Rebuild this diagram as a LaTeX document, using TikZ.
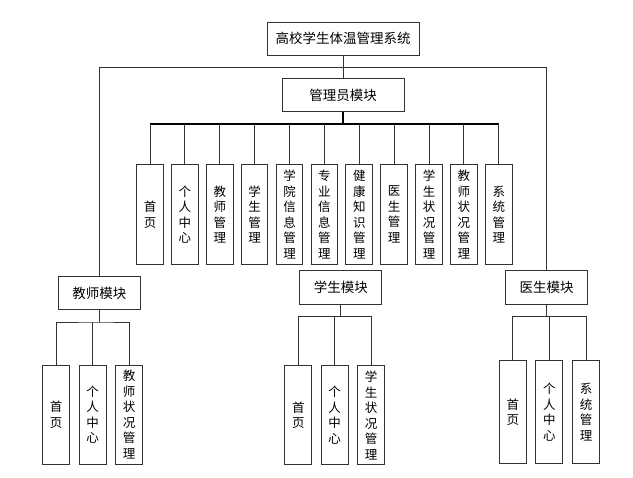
\documentclass[tikz,border=0pt]{standalone}
\usepackage{fontspec}
\newfontfamily\cjk{Noto Sans CJK SC}
\begin{document}
\begin{tikzpicture}[x=1bp,y=-1bp,
  box/.style={draw=black!80,line width=1bp,fill=white,inner sep=0pt,font=\cjk\fontsize{13.5bp}{15bp}\selectfont},
  vbox/.style={draw=black!80,line width=1bp,fill=white,inner sep=0pt,minimum width=26.7bp,minimum height=99.5bp,align=center,font=\cjk\fontsize{12.5bp}{15.5bp}\selectfont},
  link/.style={draw=black!80,line width=1bp},
  boldlink/.style={draw=black,line width=1.6bp}]
\useasboundingbox (0,0) rectangle (633,478);
% top and admin
\node[box,minimum width=151.7bp,minimum height=32.7bp] (top) at (343.2,38.7) {高校学生体温管理系统};
\node[box,minimum width=122.3bp,minimum height=33.4bp] (admin) at (343.2,95) {管理员模块};
% admin children
\foreach \i/\t in {0/{首\\页},1/{个\\人\\中\\心},2/{教\\师\\管\\理},3/{学\\生\\管\\理},4/{学\\院\\信\\息\\管\\理},5/{专\\业\\信\\息\\管\\理},6/{健\\康\\知\\识\\管\\理},7/{医\\生\\管\\理},8/{学\\生\\状\\况\\管\\理},9/{教\\师\\状\\况\\管\\理},10/{系\\统\\管\\理}}
  \node[vbox] (a\i) at ({150+34.88*\i},214.5) {\t};
% modules
\node[box,minimum width=82bp,minimum height=33.4bp] (teacher) at (99.3,293) {教师模块};
\node[box,minimum width=81.7bp,minimum height=33.4bp] (student) at (340.8,287.5) {学生模块};
\node[box,minimum width=82bp,minimum height=33.4bp] (doctor) at (546.5,287.3) {医生模块};
% teacher children
\node[vbox,minimum height=99bp] (t0) at (56,414.5) {首\\页};
\node[vbox,minimum height=99bp] (t1) at (92.7,414.5) {个\\人\\中\\心};
\node[vbox,minimum height=99bp] (t2) at (129,414.5) {教\\师\\状\\况\\管\\理};
% student children
\node[vbox,minimum height=99.3bp] (s0) at (298.3,415.3) {首\\页};
\node[vbox,minimum height=99.3bp] (s1) at (334.7,415.3) {个\\人\\中\\心};
\node[vbox,minimum height=99.3bp] (s2) at (371,415.3) {学\\生\\状\\况\\管\\理};
% doctor children
\node[vbox,minimum height=103.3bp] (d0) at (512.8,412.3) {首\\页};
\node[vbox,minimum height=103.3bp] (d1) at (549.3,412.3) {个\\人\\中\\心};
\node[vbox,minimum height=103.3bp] (d2) at (586,412.3) {系\\统\\管\\理};
% connectors
\coordinate (hl) at (343.2,67.3);
\draw[link] (top.south) -- (admin.north);
\draw[link] (teacher.north) |- (hl) -| (doctor.north);
\coordinate (abar) at (343.2,124);
\draw[boldlink] (admin.south) -- (abar);
\draw[boldlink] (a0.north |- abar) -- (a10.north |- abar);
\foreach \i in {0,...,10} \draw[link] (a\i.north) -- (a\i.north |- abar);
% teacher
\coordinate (tbar) at (99.3,322);
\draw[link] (teacher.south) -- (tbar);
\draw[link] (t0.north) |- (tbar) -| (t2.north);
\draw[link] (t1.north) -- (t1.north |- tbar);
% student
\coordinate (sbar) at (340.8,316.7);
\draw[link] (student.south) -- (sbar);
\draw[link] (s0.north) |- (sbar) -| (s2.north);
\draw[link] (s1.north) -- (s1.north |- sbar);
% doctor
\coordinate (dbar) at (546.5,316.7);
\draw[link] (doctor.south) -- (dbar);
\draw[link] (d0.north) |- (dbar) -| (d2.north);
\draw[link] (d1.north) -- (d1.north |- dbar);
\end{tikzpicture}
\end{document}
